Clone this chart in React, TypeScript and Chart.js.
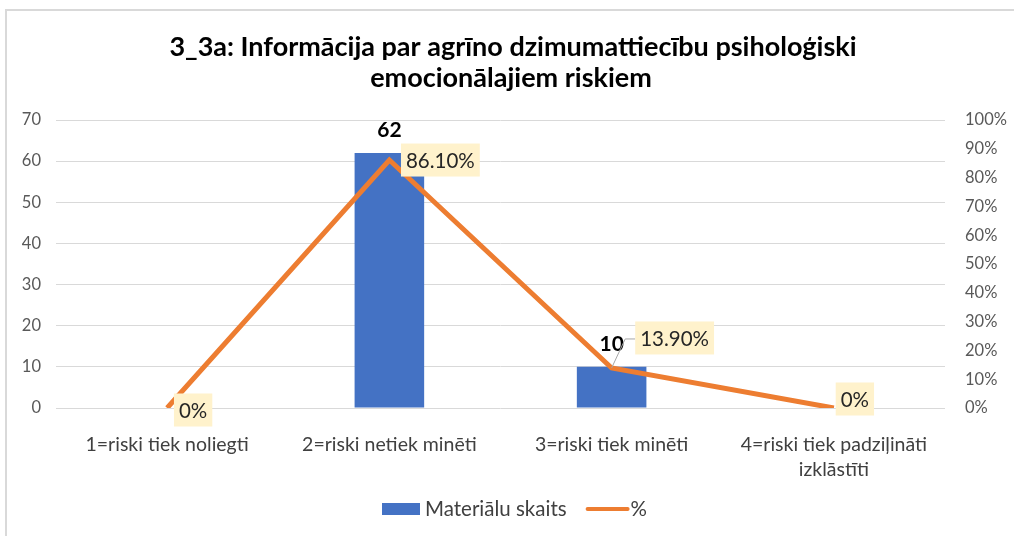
import React, { useEffect, useRef } from "react";
import { Chart, registerables } from "chart.js";

Chart.register(...registerables);

const TITLE_LINES = [
  "3_3a: Informācija par agrīno dzimumattiecību psiholoģiski",
  "emocionālajiem riskiem",
];
const CATEGORIES: (string | string[])[] = [
  "1=riski tiek noliegti",
  "2=riski netiek minēti",
  "3=riski tiek minēti",
  ["4=riski tiek padziļināti", "izklāstīti"],
];
const COUNTS = [0, 62, 10, 0];
const PERCENTS = [0, 86.1, 13.9, 0];
const LEFT_TICKS = { min: 0, max: 70, step: 10 };
const RIGHT_TICKS = { min: 0, max: 100, step: 10 };
const SERIES_NAMES = ["Materiālu skaits", "%"];

const FONT = "Lato";
const BLUE = "#4472C4";
const ORANGE = "#ED7D31";
const LABEL_BG = "#FFF2CC";
const TEXT = "#404040";
const TICK = "#595959";

// label placement offsets (style)
const LINE_LABEL_OFFSETS = [
  { dx: 26, dy: 2, leader: false },
  { dx: 51, dy: 0, leader: false },
  { dx: 63, dy: -30, leader: true },
  { dx: 21, dy: -9, leader: false },
];

const fmtPct = (v: number) => (v === 0 ? "0%" : v.toFixed(2) + "%");

const decorPlugin = {
  id: "decor",
  afterDatasetsDraw(chart: any) {
    const ctx = chart.ctx;
    const barMeta = chart.getDatasetMeta(1);
    const lineMeta = chart.getDatasetMeta(0);
    ctx.save();
    // bar value labels
    ctx.font = `bold 21px ${FONT}`;
    ctx.fillStyle = "#000";
    ctx.textAlign = "center";
    ctx.textBaseline = "middle";
    COUNTS.forEach((v, i) => {
      if (!v) return;
      const el = barMeta.data[i];
      ctx.fillText(String(v), el.x, el.y - 23);
    });
    // line labels
    ctx.font = `20.5px ${FONT}`;
    PERCENTS.forEach((v, i) => {
      const el = lineMeta.data[i];
      const off = LINE_LABEL_OFFSETS[i];
      const cx = el.x + off.dx;
      const cy = el.y + off.dy;
      const txt = fmtPct(v);
      const w = ctx.measureText(txt).width + 10;
      const h = 33;
      if (off.leader) {
        ctx.strokeStyle = "#A6A6A6";
        ctx.lineWidth = 1;
        ctx.beginPath();
        ctx.moveTo(el.x, el.y);
        ctx.lineTo(cx - w / 2 - 10, cy + 1);
        ctx.lineTo(cx - w / 2, cy + 1);
        ctx.stroke();
      }
      ctx.fillStyle = LABEL_BG;
      ctx.fillRect(cx - w / 2, cy - h / 2, w, h);
      ctx.fillStyle = "#262626";
      ctx.fillText(txt, cx, cy + 1);
    });
    ctx.restore();
  },
  afterDraw(chart: any) {
    const ctx = chart.ctx;
    ctx.save();
    // title
    ctx.font = `bold 27px ${FONT}`;
    ctx.fillStyle = "#000";
    ctx.textAlign = "center";
    ctx.textBaseline = "middle";
    ctx.fillText(TITLE_LINES[0], 513, 47);
    ctx.fillText(TITLE_LINES[1], 511, 78);
    // legend
    ctx.font = `20.5px ${FONT}`;
    ctx.textAlign = "left";
    ctx.fillStyle = BLUE;
    ctx.fillRect(382, 503, 38, 12);
    ctx.fillStyle = TEXT;
    ctx.fillText(SERIES_NAMES[0], 425, 509);
    const end = 425 + ctx.measureText(SERIES_NAMES[0]).width;
    const ls = end + 21;
    ctx.strokeStyle = ORANGE;
    ctx.lineWidth = 4;
    ctx.lineCap = "round";
    ctx.beginPath();
    ctx.moveTo(ls, 509);
    ctx.lineTo(ls + 40, 509);
    ctx.stroke();
    ctx.fillStyle = TEXT;
    ctx.fillText(SERIES_NAMES[1], ls + 43, 509);
    ctx.restore();
  },
};

export default function App() {
  const ref = useRef<HTMLCanvasElement>(null);
  useEffect(() => {
    const chart = new Chart(ref.current!, {
      type: "bar",
      data: {
        labels: CATEGORIES,
        datasets: [
          {
            type: "line",
            label: SERIES_NAMES[1],
            data: PERCENTS,
            yAxisID: "y1",
            borderColor: ORANGE,
            backgroundColor: ORANGE,
            borderWidth: 5,
            pointRadius: 0,
            tension: 0,
            order: 0,
          } as any,
          {
            type: "bar",
            label: SERIES_NAMES[0],
            data: COUNTS,
            yAxisID: "y",
            backgroundColor: BLUE,
            barPercentage: 0.313,
            categoryPercentage: 1,
            order: 1,
          },
        ],
      },
      options: {
        responsive: false,
        animation: false,
        layout: { padding: { left: 0, right: 0, top: 120, bottom: 48 } },
        plugins: { legend: { display: false }, title: { display: false }, tooltip: { enabled: false } },
        scales: {
          x: {
            grid: { display: false },
            border: { display: false },
            ticks: {
              font: { family: FONT, size: 19.5, lineHeight: 1.25 },
              color: TEXT,
              padding: 17,
              maxRotation: 0,
              autoSkip: false,
            },
            afterFit(s: any) {
              s.height = 80;
            },
          },
          y: {
            position: "left",
            min: LEFT_TICKS.min,
            max: LEFT_TICKS.max,
            grid: { color: "#D9D9D9", drawTicks: false },
            border: { display: false },
            ticks: {
              stepSize: LEFT_TICKS.step,
              font: { family: FONT, size: 16.5 },
              color: TICK,
              padding: 15,
            },
            afterFit(s: any) {
              s.width = 56;
            },
          },
          y1: {
            position: "right",
            min: RIGHT_TICKS.min,
            max: RIGHT_TICKS.max,
            grid: { display: false, drawTicks: false },
            border: { display: false },
            ticks: {
              stepSize: RIGHT_TICKS.step,
              font: { family: FONT, size: 16.5 },
              color: TICK,
              padding: 20,
              callback: (v: any) => Math.round(Number(v)) + "%",
            },
            afterFit(s: any) {
              s.width = 69;
            },
          },
        },
      },
      plugins: [decorPlugin],
    });
    return () => chart.destroy();
  }, []);

  return (
    <div style={{ position: "absolute", left: 0, top: 0, width: 1014, height: 536, overflow: "hidden", background: "#fff" }}>
      <div
        style={{
          position: "absolute",
          left: 5,
          top: 9,
          width: 1040,
          height: 560,
          borderLeft: "2px solid #D9D9D9",
          borderTop: "2px solid #D9D9D9",
        }}
      />
      <canvas ref={ref} width={1014} height={536} style={{ position: "absolute", left: 0, top: 0, display: "block" }} />
    </div>
  );
}
